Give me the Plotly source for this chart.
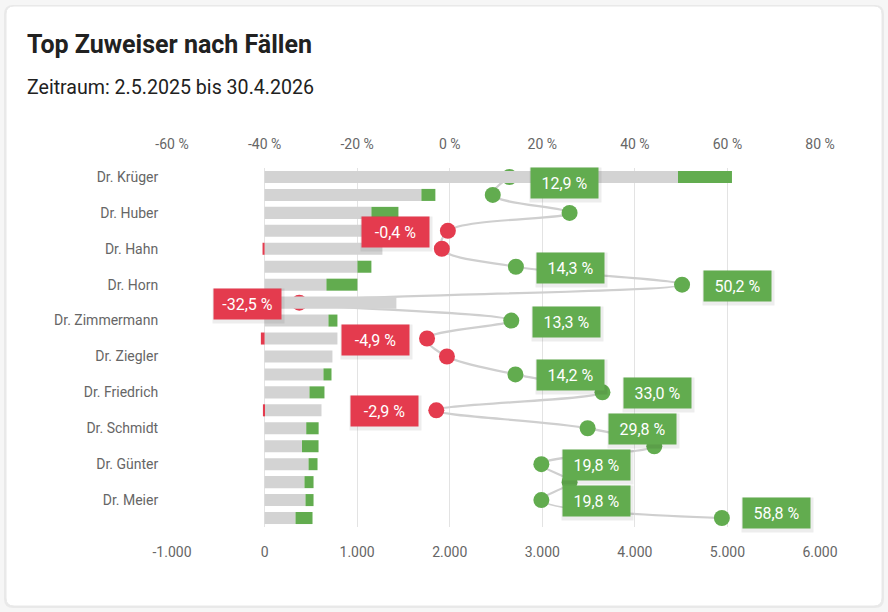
import plotly.graph_objects as go

# ---------------- data ----------------
row_labels = ["Dr. Krüger", "Dr. Huber", "Dr. Hahn", "Dr. Horn", "Dr. Zimmermann",
              "Dr. Ziegler", "Dr. Friedrich", "Dr. Schmidt", "Dr. Günter", "Dr. Meier"]
label_rows = [0, 2, 4, 6, 8, 10, 12, 14, 16, 18]
rows = list(range(20))
basis_cases = [4466, 1694, 1154, 1300, 1273, 1003, 668, 1424, 690, 787,
               733, 636, 485, 615, 450, 404, 475, 431, 442, 334]
delta_cases = [583, 151, 292, 0, -22, 151, 335, -460, 97, -40,
               0, 87, 162, -18, 134, 179, 97, 98, 87, 184]
change_pct = [12.9, 9.3, 25.9, -0.4, -1.7, 14.3, 50.2, -32.5, 13.3, -4.9,
              -0.6, 14.2, 33.0, -2.9, 29.8, 44.2, 19.8, 25.9, 19.8, 58.8]
shown_pct_labels = [0, 3, 5, 6, 7, 8, 9, 11, 12, 13, 14, 16, 18, 19]
cases_ticks = [-1000, 0, 1000, 2000, 3000, 4000, 5000, 6000]
cases_ticktext = ["-1.000", "0", "1.000", "2.000", "3.000", "4.000", "5.000", "6.000"]
pct_ticks = [-60, -40, -20, 0, 20, 40, 60, 80]
pct_ticktext = ["-60 %", "-40 %", "-20 %", "0 %", "20 %", "40 %", "60 %", "80 %"]

GREEN = "#62ac4f"
RED = "#e43b4e"
GRAY = "#d3d3d3"
FONT = "Roboto"

# plot area geometry (pixels)
W_FIG, H_FIG = 888, 612
L, R, T, B = 172, 820, 168, 527
PW, PH = R - L, B - T


def px_x(px):
    return (px - L) / PW


def px_y(py):
    return (B - py) / PH


def fmt_pct(v):
    return f"{v:.1f}".replace(".", ",") + " %"


fig = go.Figure()

# percentage line (base axis, drawn under the bars)
fig.add_trace(go.Scatter(
    x=change_pct, y=rows, xaxis="x", yaxis="y",
    mode="lines+markers",
    line=dict(color="#cfcfcf", width=2.2, shape="spline", smoothing=1.0),
    marker=dict(size=16, color=[GREEN if v >= 0 else RED for v in change_pct]),
    hoverinfo="skip", showlegend=False,
))

# bars
fig.add_trace(go.Bar(
    x=basis_cases, y=rows, orientation="h", xaxis="x2", yaxis="y",
    marker=dict(color=GRAY, line=dict(width=0)), width=0.67,
    hoverinfo="skip", showlegend=False,
))
fig.add_trace(go.Bar(
    x=delta_cases, y=rows, orientation="h", xaxis="x2", yaxis="y",
    marker=dict(color=[GREEN if v >= 0 else RED for v in delta_cases], line=dict(width=0)),
    width=0.67, hoverinfo="skip", showlegend=False,
))

annotations = []
# value labels
for i in shown_pct_labels:
    v = change_pct[i]
    ys = -1
    if i == 0:
        ys = -6
    if i == 19:
        ys = 5
    xs = 55 if v >= 0 else -52
    # shadow
    annotations.append(dict(
        x=v, y=i, xref="x", yref="y", text="", showarrow=False,
        xshift=xs + 1, yshift=ys - 2, width=63, height=26, borderpad=4,
        bgcolor="rgba(0,0,0,0.07)",
    ))
    annotations.append(dict(
        x=v, y=i, xref="x", yref="y", text=fmt_pct(v), showarrow=False,
        xshift=xs, yshift=ys, width=59, height=22, borderpad=4,
        bgcolor=GREEN if v >= 0 else RED,
        font=dict(family=FONT, size=16, color="white"),
    ))

annotations.append(dict(
    x=px_x(25), y=px_y(44), xref="paper", yref="paper", xanchor="left", yanchor="middle",
    text="<b>Top Zuweiser nach Fällen</b>", showarrow=False,
    font=dict(family=FONT, size=25, color="#212121"),
))
annotations.append(dict(
    x=px_x(25), y=px_y(87), xref="paper", yref="paper", xanchor="left", yanchor="middle",
    text="Zeitraum: 2.5.2025 bis 30.4.2026", showarrow=False,
    font=dict(family=FONT, size=19.6, color="#212121"),
))


def rounded_path(x0, y0, x1, y1, r):
    X0, X1 = px_x(x0), px_x(x1)
    Y0, Y1 = px_y(y0), px_y(y1)
    rx, ry = r / PW, r / PH
    return (f"M {X0+rx},{Y0} L {X1-rx},{Y0} Q {X1},{Y0} {X1},{Y0-ry} "
            f"L {X1},{Y1+ry} Q {X1},{Y1} {X1-rx},{Y1} "
            f"L {X0+rx},{Y1} Q {X0},{Y1} {X0},{Y1+ry} "
            f"L {X0},{Y0-ry} Q {X0},{Y0} {X0+rx},{Y0} Z")


shapes = [
    dict(type="path", path=rounded_path(4, 5, 884, 608, 9), xref="paper", yref="paper",
         fillcolor="rgba(0,0,0,0.05)", line=dict(width=0), layer="below"),
    dict(type="path", path=rounded_path(6, 6, 882, 606, 8), xref="paper", yref="paper",
         fillcolor="white", line=dict(color="#e8e8e8", width=1), layer="below"),
]

axis_font = dict(family=FONT, size=14, color="#666666")

fig.update_layout(
    width=W_FIG, height=H_FIG,
    margin=dict(l=L, r=W_FIG - R, t=T, b=H_FIG - B, pad=0),
    paper_bgcolor="#f6f6f6",
    plot_bgcolor="rgba(0,0,0,0)",
    barmode="relative",
    bargap=0.33,
    showlegend=False,
    font=dict(family=FONT),
    xaxis=dict(
        range=[-60, 80], side="top", tickvals=pct_ticks, ticktext=pct_ticktext,
        showgrid=False, zeroline=False, showline=False,
        ticks="outside", ticklen=12, tickcolor="rgba(0,0,0,0)",
        tickfont=axis_font, fixedrange=True,
    ),
    xaxis2=dict(
        range=[-1000, 6000], side="bottom", overlaying="x", anchor="y",
        tickvals=cases_ticks, ticktext=cases_ticktext,
        showgrid=True, gridcolor="#e3e3e3", gridwidth=1,
        zeroline=False, showline=False,
        ticks="outside", ticklen=12, tickcolor="rgba(0,0,0,0)",
        tickfont=axis_font, fixedrange=True,
    ),
    yaxis=dict(
        range=[19.5, -0.5], tickvals=label_rows, ticktext=row_labels,
        showgrid=False, zeroline=False, showline=False,
        ticks="outside", ticklen=10, tickcolor="rgba(0,0,0,0)",
        tickfont=axis_font, fixedrange=True,
    ),
    annotations=annotations,
    shapes=shapes,
)

fig.write_html("out.html")
